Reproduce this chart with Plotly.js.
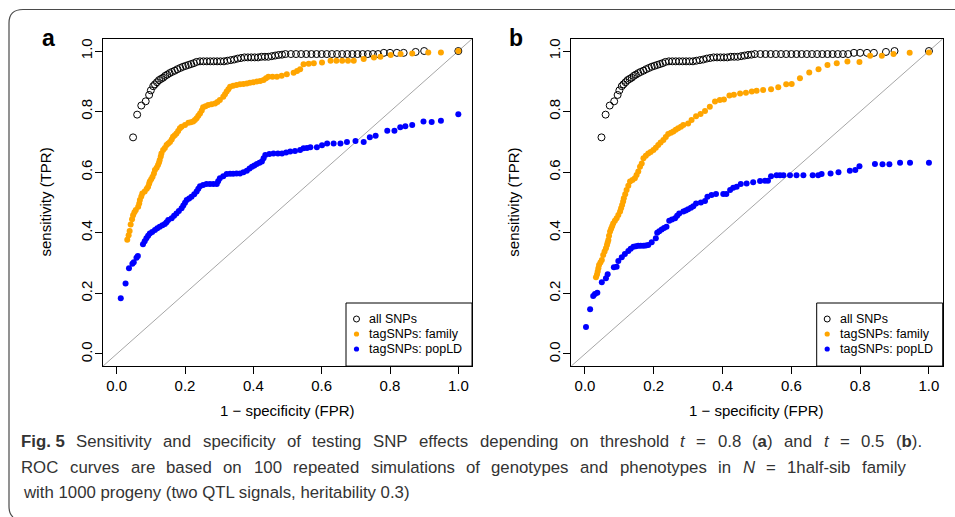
<!DOCTYPE html>
<html><head><meta charset="utf-8">
<script src="https://cdn.plot.ly/plotly-3.0.1.min.js"></script>
<style>html,body{margin:0;padding:0;background:#fff}#chart{width:955px;height:517px}</style>
</head><body><div id="chart"></div>
<script>
const tickVals = [0, 0.2, 0.4, 0.6, 0.8, 1.0];
const tickText = ["0.0", "0.2", "0.4", "0.6", "0.8", "1.0"];
const seriesNames = ["all SNPs", "tagSNPs: family", "tagSNPs: popLD"];
const panelLabels = ["a", "b"];
const xTitle = "1 \u2212 specificity (FPR)";
const yTitle = "sensitivity (TPR)";

// all SNPs (same in both panels)
const allFPR = [0.048,0.06,0.072,0.085,0.095,0.10,0.107,0.112,0.118,0.124,0.13,0.136,0.142,0.148,0.155,0.162,0.17,0.178,0.186,0.194,0.202,0.21,0.218,0.226,0.234,0.244,0.254,0.264,0.274,0.284,0.294,0.304,0.314,0.324,0.334,0.344,0.354,0.364,0.374,0.384,0.394,0.404,0.414,0.424,0.434,0.444,0.454,0.464,0.474,0.484,0.494,0.51,0.525,0.54,0.555,0.57,0.585,0.60,0.615,0.63,0.645,0.66,0.675,0.69,0.705,0.72,0.735,0.75,0.765,0.782,0.80,0.82,0.84,0.875,0.9,1.0];
const allTPR = [0.715,0.79,0.82,0.834,0.855,0.87,0.884,0.89,0.897,0.904,0.908,0.912,0.918,0.922,0.927,0.931,0.935,0.94,0.944,0.948,0.951,0.954,0.957,0.96,0.964,0.966,0.966,0.966,0.966,0.966,0.966,0.966,0.966,0.968,0.97,0.972,0.975,0.977,0.979,0.979,0.979,0.979,0.979,0.981,0.981,0.981,0.983,0.985,0.987,0.988,0.99,0.99,0.99,0.99,0.99,0.99,0.99,0.99,0.99,0.99,0.99,0.99,0.99,0.99,0.99,0.99,0.99,0.99,0.99,0.994,0.994,0.994,0.994,0.997,1.0,1.0];

// panel a (t = 0.8)
const familyA_FPR = [0.031,0.035,0.038,0.041,0.045,0.048,0.052,0.056,0.063,0.066,0.068,0.072,0.075,0.082,0.088,0.092,0.095,0.097,0.101,0.105,0.109,0.112,0.117,0.121,0.124,0.126,0.129,0.131,0.136,0.141,0.146,0.151,0.156,0.161,0.165,0.170,0.175,0.18,0.185,0.19,0.2,0.21,0.217,0.224,0.229,0.234,0.239,0.244,0.249,0.253,0.26,0.268,0.278,0.288,0.295,0.302,0.312,0.317,0.322,0.327,0.332,0.341,0.351,0.361,0.371,0.381,0.39,0.40,0.41,0.42,0.43,0.437,0.444,0.456,0.469,0.483,0.498,0.518,0.528,0.537,0.547,0.562,0.577,0.601,0.626,0.643,0.66,0.677,0.694,0.723,0.753,0.772,0.802,0.831,0.865,0.912,0.949,1.0];
const familyA_TPR = [0.377,0.392,0.406,0.427,0.445,0.458,0.468,0.475,0.486,0.497,0.508,0.52,0.53,0.536,0.545,0.552,0.562,0.569,0.577,0.585,0.596,0.607,0.615,0.624,0.632,0.64,0.652,0.662,0.673,0.68,0.69,0.695,0.70,0.708,0.717,0.722,0.728,0.736,0.745,0.75,0.756,0.763,0.765,0.767,0.772,0.778,0.786,0.794,0.804,0.814,0.818,0.822,0.824,0.827,0.832,0.838,0.849,0.857,0.866,0.874,0.882,0.885,0.888,0.89,0.891,0.893,0.895,0.897,0.899,0.901,0.904,0.91,0.915,0.915,0.915,0.918,0.923,0.928,0.934,0.94,0.956,0.958,0.96,0.962,0.968,0.968,0.968,0.968,0.968,0.974,0.979,0.981,0.987,0.99,0.992,0.995,0.995,1.0];
const popA_FPR = [0.012,0.026,0.036,0.046,0.05,0.058,0.062,0.077,0.082,0.087,0.092,0.097,0.104,0.112,0.119,0.126,0.134,0.141,0.146,0.151,0.161,0.168,0.175,0.182,0.19,0.195,0.2,0.205,0.212,0.219,0.227,0.234,0.239,0.244,0.253,0.263,0.273,0.283,0.293,0.297,0.302,0.312,0.322,0.332,0.341,0.351,0.361,0.371,0.381,0.389,0.396,0.403,0.41,0.418,0.425,0.43,0.435,0.447,0.459,0.472,0.484,0.496,0.508,0.522,0.537,0.547,0.557,0.567,0.586,0.601,0.616,0.635,0.655,0.674,0.699,0.723,0.741,0.758,0.792,0.813,0.83,0.845,0.865,0.898,0.922,0.949,1.0];
const popA_TPR = [0.184,0.233,0.283,0.298,0.303,0.318,0.323,0.362,0.372,0.382,0.39,0.398,0.403,0.409,0.415,0.42,0.425,0.429,0.435,0.442,0.448,0.456,0.464,0.472,0.481,0.49,0.499,0.508,0.513,0.519,0.527,0.536,0.545,0.554,0.558,0.561,0.561,0.561,0.561,0.57,0.58,0.587,0.594,0.595,0.595,0.596,0.596,0.6,0.605,0.612,0.618,0.622,0.627,0.631,0.635,0.646,0.657,0.66,0.662,0.662,0.662,0.665,0.668,0.67,0.673,0.679,0.68,0.682,0.682,0.689,0.695,0.695,0.695,0.70,0.703,0.70,0.715,0.72,0.737,0.737,0.748,0.752,0.756,0.767,0.766,0.77,0.791];

// panel b (t = 0.5)
const familyB_FPR = [0.032,0.035,0.037,0.039,0.041,0.045,0.049,0.053,0.057,0.061,0.064,0.066,0.068,0.07,0.073,0.076,0.079,0.082,0.087,0.092,0.097,0.102,0.105,0.108,0.111,0.113,0.117,0.121,0.126,0.131,0.138,0.145,0.15,0.155,0.16,0.165,0.17,0.177,0.184,0.191,0.199,0.206,0.213,0.22,0.228,0.235,0.242,0.25,0.257,0.264,0.271,0.279,0.286,0.3,0.31,0.323,0.336,0.349,0.363,0.378,0.392,0.404,0.42,0.433,0.451,0.468,0.485,0.499,0.518,0.541,0.562,0.585,0.601,0.625,0.652,0.679,0.705,0.732,0.763,0.798,0.829,0.863,0.897,0.944,1.0];
const familyB_TPR = [0.253,0.262,0.272,0.283,0.294,0.302,0.31,0.327,0.338,0.349,0.36,0.368,0.376,0.39,0.404,0.413,0.422,0.431,0.44,0.448,0.459,0.47,0.481,0.492,0.503,0.514,0.527,0.541,0.555,0.569,0.574,0.58,0.591,0.602,0.618,0.629,0.646,0.654,0.662,0.667,0.673,0.681,0.69,0.698,0.706,0.716,0.726,0.73,0.734,0.74,0.745,0.75,0.756,0.761,0.772,0.785,0.792,0.802,0.816,0.833,0.838,0.84,0.853,0.856,0.86,0.862,0.866,0.869,0.871,0.874,0.88,0.89,0.891,0.91,0.929,0.94,0.954,0.96,0.965,0.964,0.984,0.984,0.99,0.994,0.995];
const popB_FPR = [0.003,0.015,0.024,0.029,0.036,0.049,0.061,0.066,0.084,0.092,0.097,0.107,0.116,0.126,0.133,0.141,0.148,0.155,0.162,0.17,0.177,0.184,0.194,0.206,0.21,0.216,0.223,0.23,0.237,0.245,0.253,0.262,0.268,0.274,0.286,0.293,0.3,0.308,0.315,0.323,0.337,0.349,0.356,0.368,0.381,0.402,0.411,0.422,0.431,0.441,0.453,0.47,0.489,0.509,0.523,0.532,0.541,0.557,0.567,0.577,0.596,0.615,0.635,0.662,0.678,0.688,0.714,0.737,0.77,0.786,0.798,0.843,0.865,0.885,0.916,0.945,1.0];
const popB_TPR = [0.089,0.148,0.191,0.198,0.202,0.237,0.25,0.263,0.286,0.288,0.307,0.319,0.33,0.34,0.347,0.354,0.356,0.357,0.357,0.357,0.358,0.36,0.369,0.382,0.4,0.405,0.411,0.416,0.42,0.44,0.444,0.448,0.456,0.464,0.47,0.474,0.478,0.483,0.488,0.497,0.5,0.505,0.519,0.525,0.528,0.528,0.528,0.541,0.549,0.552,0.561,0.563,0.567,0.571,0.572,0.572,0.587,0.59,0.59,0.59,0.59,0.59,0.59,0.59,0.59,0.594,0.596,0.6,0.605,0.607,0.62,0.627,0.626,0.626,0.631,0.631,0.631];

const captionLines = [
  "<b>Fig.&nbsp;5</b> Sensitivity and specificity of testing SNP effects depending on threshold <i>t</i> = 0.8 (<b>a</b>) and <i>t</i> = 0.5 (<b>b</b>).",
  "ROC curves are based on 100 repeated simulations of genotypes and phenotypes in <i>N</i> = 1half-sib family",
  "with 1000 progeny (two QTL signals, heritability 0.3)"
];

const W = 955, H = 517;
const px = v => v / W;
const py = v => 1 - v / H;
const COL_ALL = "#000000", COL_FAM = "#FFA500", COL_POP = "#0000FF";
const rFont = "Liberation Sans, Arial, Helvetica, sans-serif";
const capFamily = "Liberation Sans";
const capSize = 16.8;

const panels = [
  {xa: "x", ya: "y", fam: [familyA_FPR, familyA_TPR], pop: [popA_FPR, popA_TPR], left: 103, right: 472},
  {xa: "x2", ya: "y2", fam: [familyB_FPR, familyB_TPR], pop: [popB_FPR, popB_TPR], left: 571.2, right: 942.7}
];
const boxTop = 38.9, boxBottom = 366.1;

const traces = [];
panels.forEach(p => {
  traces.push({type: "scatter", mode: "markers", x: allFPR, y: allTPR, xaxis: p.xa, yaxis: p.ya, name: seriesNames[0],
    marker: {symbol: "circle-open", size: 7, color: COL_ALL, line: {width: 1, color: COL_ALL}}, showlegend: false, hoverinfo: "skip"});
  traces.push({type: "scatter", mode: "markers", x: p.fam[0], y: p.fam[1], xaxis: p.xa, yaxis: p.ya, name: seriesNames[1],
    marker: {symbol: "circle", size: 6, color: COL_FAM, line: {width: 0}}, showlegend: false, hoverinfo: "skip"});
  traces.push({type: "scatter", mode: "markers", x: p.pop[0], y: p.pop[1], xaxis: p.xa, yaxis: p.ya, name: seriesNames[2],
    marker: {symbol: "circle", size: 6, color: COL_POP, line: {width: 0}}, showlegend: false, hoverinfo: "skip"});
});

function axisX(dom) {
  return {domain: dom, range: [-0.04, 1.04], tickvals: tickVals, ticktext: tickText, ticks: "outside", ticklen: 7,
    tickcolor: "#000", tickwidth: 1, showline: true, mirror: true, linecolor: "#000", linewidth: 1, showgrid: false,
    zeroline: false, tickfont: {family: rFont, size: 15, color: "#000"}, ticklabelstandoff: -1, fixedrange: true};
}
function axisY(dom, anchor) {
  const a = axisX(dom);
  a.tickangle = -90;
  a.anchor = anchor;
  a.ticklabelstandoff = -3;
  return a;
}
const yDom = [1 - boxBottom / H, 1 - boxTop / H];

const shapes = [];
const annotations = [];
// frame
shapes.push({type: "path", xref: "paper", yref: "paper",
  path: `M ${px(13)} ${py(517)} Q ${px(9)} ${py(514)} ${px(9)} ${py(506)} L ${px(9)} ${py(23)} Q ${px(9)} ${py(9.5)} ${px(23)} ${py(9.5)} L ${px(955)} ${py(9.5)}`,
  line: {color: "#4a4a4a", width: 1.2}});

panels.forEach((p, i) => {
  shapes.push({type: "line", xref: p.xa, yref: p.ya, x0: -0.04, y0: -0.04, x1: 1.04, y1: 1.04,
    line: {color: "#a6a6a6", width: 1}, layer: "below"});
  const cx = (p.left + p.right) / 2;
  annotations.push({xref: "paper", yref: "paper", x: px(cx), y: py(410), text: xTitle, showarrow: false,
    xanchor: "center", yanchor: "middle", font: {family: rFont, size: 15, color: "#000"}});
  annotations.push({xref: "paper", yref: "paper", x: px(p.left - 58), y: py(202.5), text: yTitle, showarrow: false, textangle: -90,
    xanchor: "center", yanchor: "middle", font: {family: rFont, size: 15, color: "#000"}});
  annotations.push({xref: "paper", yref: "paper", x: px(p.left - 55), y: py(38), text: "<b>" + panelLabels[i] + "</b>", showarrow: false,
    xanchor: "center", yanchor: "middle", font: {family: rFont, size: 23, color: "#000"}});
  const lx0 = p.right - 126, ly0 = 303, ly1 = boxBottom;
  shapes.push({type: "rect", xref: "paper", yref: "paper", x0: px(lx0), x1: px(p.right), y0: py(ly1), y1: py(ly0),
    line: {color: "#000", width: 1}, fillcolor: "#fff"});
  const rows = [319, 334, 349];
  const cols = [COL_ALL, COL_FAM, COL_POP];
  rows.forEach((ry, k) => {
    const open = k === 0;
    const r = open ? 3 : 2.6;
    shapes.push({type: "circle", xref: "paper", yref: "paper", xsizemode: "pixel", ysizemode: "pixel",
      xanchor: px(lx0 + 10.5), yanchor: py(ry), x0: -r, x1: r, y0: -r, y1: r,
      line: {color: cols[k], width: open ? 1 : 0}, fillcolor: open ? "rgba(0,0,0,0)" : cols[k]});
    annotations.push({xref: "paper", yref: "paper", x: px(lx0 + 21), y: py(ry), text: seriesNames[k], showarrow: false,
      xanchor: "left", yanchor: "middle", font: {family: rFont, size: 12.5, color: "#000"}});
  });
});

// caption: justified lines (last line flush left), laid out word by word
const ctx = document.createElement("canvas").getContext("2d");
function measure(markup) {
  let bold = false, ital = false, w = 0;
  markup.replace(/&nbsp;/g, " ").split(/(<\/?[bi]>)/).forEach(part => {
    if (part === "<b>") bold = true; else if (part === "</b>") bold = false;
    else if (part === "<i>") ital = true; else if (part === "</i>") ital = false;
    else if (part) { ctx.font = `${ital ? "italic " : ""}${bold ? "bold " : ""}${capSize}px "${capFamily}"`; w += ctx.measureText(part).width; }
  });
  return w;
}
const capY = [441, 467, 492];
const capLeft = 21, capRight = [922, 906, null];
captionLines.forEach((line, i) => {
  const font = {family: capFamily + ", Arial, sans-serif", size: capSize, color: "#333"};
  if (capRight[i] === null) {
    annotations.push({xref: "paper", yref: "paper", x: px(capLeft), y: py(capY[i]), text: line, showarrow: false,
      xanchor: "left", yanchor: "middle", align: "left", font: font});
    return;
  }
  const words = line.split(/ +/).filter(s => s.length);
  const widths = words.map(measure);
  const total = widths.reduce((a, b) => a + b, 0);
  const gap = (capRight[i] - capLeft - total) / (words.length - 1);
  let x = capLeft;
  words.forEach((w, k) => {
    annotations.push({xref: "paper", yref: "paper", x: px(x), y: py(capY[i]), text: w, showarrow: false,
      xanchor: "left", yanchor: "middle", align: "left", font: font, borderpad: 0, borderwidth: 0});
    x += widths[k] + gap;
  });
});

const layout = {
  width: W, height: H, autosize: false, margin: {l: 0, r: 0, t: 0, b: 0},
  paper_bgcolor: "#fff", plot_bgcolor: "#fff", showlegend: false,
  xaxis: Object.assign(axisX([103 / W, 472 / W]), {anchor: "y"}),
  yaxis: axisY(yDom, "x"),
  xaxis2: Object.assign(axisX([571.2 / W, 942.7 / W]), {anchor: "y2"}),
  yaxis2: axisY(yDom, "x2"),
  shapes: shapes, annotations: annotations
};

Plotly.newPlot("chart", traces, layout, {staticPlot: true, displayModeBar: false});
</script>
</body></html>
